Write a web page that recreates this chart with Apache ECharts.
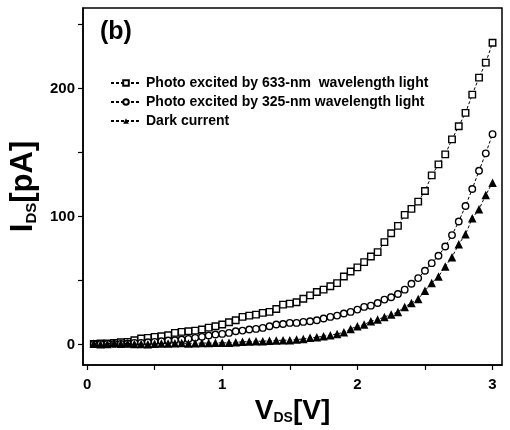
<!DOCTYPE html>
<html>
<head>
<meta charset="utf-8">
<script src="https://cdn.jsdelivr.net/npm/echarts@6/dist/echarts.min.js"></script>
<style>html,body{margin:0;padding:0;background:#fff}#c{width:510px;height:430px}</style>
</head>
<body>
<div id="c"></div>
<script>
var vds = [0.05,0.10,0.15,0.20,0.25,0.30,0.35,0.40,0.45,0.50,0.55,0.60,0.65,0.70,0.75,0.80,0.85,0.90,0.95,1.00,
  1.05,1.10,1.15,1.20,1.25,1.30,1.35,1.40,1.45,1.50,1.55,1.60,1.65,1.70,1.75,1.80,1.85,1.90,1.95,2.00,
  2.05,2.10,2.15,2.20,2.25,2.30,2.35,2.40,2.45,2.50,2.55,2.60,2.65,2.70,2.75,2.80,2.85,2.90,2.95,3.00];
var photo633 = [0.5,0.8,0.8,1.3,1.8,2.1,3.4,4.7,5.2,6.0,6.5,7.3,9.1,9.9,10.4,10.9,11.7,13.2,14.3,15.6,
  17.4,19.0,21.6,22.6,23.4,24.7,25.5,27.8,31.2,32.0,33.0,35.8,38.4,41.0,42.9,45.5,48.0,53.2,57.1,60.3,
  64.4,68.8,72.2,80.0,87.0,92.7,101.3,106.0,111.7,120.0,132.2,140.8,148.6,160.3,170.6,181.0,195.3,208.6,220.3,235.8];
var photo325 = [0.3,0.3,0.5,0.5,0.5,0.8,1.3,1.3,1.8,2.1,2.6,3.1,3.4,3.9,4.4,5.2,6.0,7.0,7.8,8.3,
  9.1,10.4,10.9,11.7,12.2,13.0,14.3,15.6,16.1,16.9,16.9,17.7,18.2,19.0,20.3,21.6,22.6,24.2,25.5,27.3,
  29.4,30.4,32.5,35.1,36.9,39.5,42.9,47.5,51.9,57.7,63.6,69.4,76.6,85.5,96.1,108.3,121.6,135.8,149.4,164.4];
var dark = [0.8,0.3,0.5,1.2,0.6,0.9,0.5,0.4,0.2,0.6,0.8,0.9,1.0,1.1,0.9,1.0,1.2,1.1,1.3,1.3,
  1.3,1.8,2.1,2.3,2.6,2.6,2.9,3.1,3.4,3.4,3.9,4.4,5.2,5.7,6.5,7.3,8.3,9.6,12.2,14.3,
  15.6,18.2,19.5,21.6,23.4,25.5,29.4,32.5,35.6,42.1,48.1,53.2,61.0,68.3,78.4,86.2,98.7,105.7,116.9,126.5];
var xTickLabels = [0,1,2,3];
var yTickLabels = [0,100,200];
var seriesNames = ['Photo excited by 633-nm  wavelength light','Photo excited by 325-nm wavelength light','Dark current'];

function pairs(ys){ return vds.map(function(x,i){ return [x, ys[i]]; }); }

var font = "'Liberation Sans Narrow','Arial Narrow','Liberation Sans',sans-serif";
var chart = echarts.init(document.getElementById('c'), null, {renderer:'canvas'});
var lineStyle = {color:'#000', width:1, type:[3,2]};
chart.setOption({
  animation:false,
  backgroundColor:'#fff',
  title:{text:'(b)', left:95, top:15, textStyle:{fontFamily:font, fontWeight:'bold', fontSize:25, color:'#000'}},
  legend:{
    orient:'vertical', left:105, top:71, itemGap:5, itemWidth:30, itemHeight:7,
    textStyle:{fontFamily:font, fontWeight:'bold', fontSize:14, color:'#000'},
    data:seriesNames
  },
  grid:{left:83, right:8, top:8, bottom:64, show:true, borderColor:'#000', borderWidth:1.5, backgroundColor:'transparent'},
  xAxis:{
    type:'value', min:-0.03, max:3.07,
    name:'V{s|DS}[V]', nameLocation:'middle', nameGap:32,
    nameTextStyle:{fontFamily:font, fontWeight:'bold', fontSize:28, color:'#000',
      rich:{s:{fontFamily:font, fontWeight:'bold', fontSize:14, color:'#000', verticalAlign:'bottom', padding:[14,0,0,0]}}},
    axisLine:{show:true, onZero:false, lineStyle:{color:'#000', width:1.5}},
    axisTick:{show:true, inside:false, length:5, customValues:[0,0.5,1,1.5,2,2.5,3], lineStyle:{color:'#000', width:1.2}},
    axisLabel:{customValues:xTickLabels, margin:12, fontFamily:font, fontWeight:'bold', fontSize:15, color:'#000'},
    splitLine:{show:false}
  },
  yAxis:{
    type:'value', min:-16, max:263,
    name:'I{s|DS}[pA]', nameLocation:'middle', nameGap:44, nameRotate:90,
    nameTextStyle:{fontFamily:font, fontWeight:'bold', fontSize:31, color:'#000',
      rich:{s:{fontFamily:font, fontWeight:'bold', fontSize:15, color:'#000', verticalAlign:'bottom', padding:[15,0,0,0]}}},
    axisLine:{show:true, onZero:false, lineStyle:{color:'#000', width:1.5}},
    axisTick:{show:true, inside:false, length:5, customValues:[0,50,100,150,200,250], lineStyle:{color:'#000', width:1.2}},
    axisLabel:{customValues:yTickLabels, margin:8, fontFamily:font, fontWeight:'bold', fontSize:15, color:'#000'},
    splitLine:{show:false}
  },
  series:[
    {name:seriesNames[0], type:'line', data:pairs(photo633), symbol:'rect', symbolSize:6.5,
      itemStyle:{color:'#fff', borderColor:'#000', borderWidth:1.4}, lineStyle:lineStyle, z:3},
    {name:seriesNames[1], type:'line', data:pairs(photo325), symbol:'circle', symbolSize:6.5,
      itemStyle:{color:'#fff', borderColor:'#000', borderWidth:1.4}, lineStyle:lineStyle, z:4},
    {name:seriesNames[2], type:'line', data:pairs(dark), symbol:'triangle', symbolSize:8.5,
      itemStyle:{color:'#000', borderColor:'#000', borderWidth:0}, lineStyle:lineStyle, z:5}
  ]
});
</script>
</body>
</html>
